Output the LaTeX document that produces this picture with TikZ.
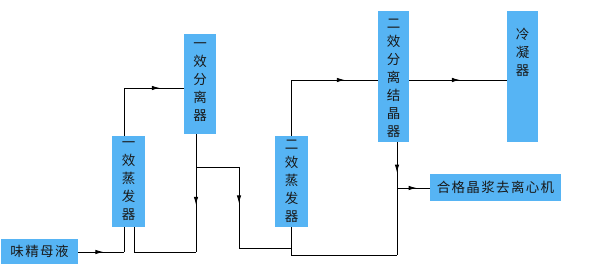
\documentclass[tikz,border=0pt]{standalone}
\usepackage{fontspec}
\newfontfamily\cjk[LetterSpace=10]{Noto Sans CJK SC}
\newfontfamily\cjkv{Noto Sans CJK SC}
\usetikzlibrary{arrows.meta,decorations.markings}
\definecolor{boxblue}{RGB}{86,180,244}
\tikzset{
  box/.style={fill=boxblue,draw=none,inner sep=0pt,text=black!90},
  vtext/.style={font=\cjkv\fontsize{13.5}{18}\selectfont,align=center,text=black!90,inner sep=0pt},
  line/.style={line width=0.9pt,black},
  arrowat/.style={line,postaction={decorate},decoration={markings,
     mark=at position #1 with {\arrow{Latex[length=8pt,width=4.5pt]}}}},
}
\begin{document}
\begin{tikzpicture}[x=1pt,y=-1pt]
\useasboundingbox (0,0) rectangle (605,280);
% boxes
\node[box,minimum width=77pt,minimum height=25pt,font=\cjk\fontsize{13.5}{15}\selectfont] (mj) at (39.5,251.5) {味精母液};
\node[box,minimum width=33pt,minimum height=91pt] (ev1) at (128.5,181.5) {};
\node[box,minimum width=32pt,minimum height=100pt] (sep1) at (200,84) {};
\node[box,minimum width=33pt,minimum height=91pt] (ev2) at (291.5,181.5) {};
\node[box,minimum width=31pt,minimum height=131pt] (sep2) at (393.5,76.5) {};
\node[box,minimum width=31pt,minimum height=131pt] (cond) at (522.5,76.5) {};
\node[box,minimum width=131pt,minimum height=27pt,font=\cjk\fontsize{13.5}{15}\selectfont] (out) at (495.5,187.5) {合格晶浆去离心机};
% vertical texts
\node[vtext] (t1) at (ev1.center) {一\\效\\蒸\\发\\器};
\node[vtext] (t2) at ([yshift=2pt]sep1.center) {一\\效\\分\\离\\器};
\node[vtext] (t3) at (ev2.center) {二\\效\\蒸\\发\\器};
\node[vtext] (t4) at ([yshift=-1.5pt]sep2.center) {二\\效\\分\\离\\结\\晶\\器};
\node[vtext,anchor=north] (t5) at ([yshift=-17pt]cond.north) {冷\\凝\\器};
% junction coordinates
\coordinate (j1) at (124,252);
\coordinate (j2) at (124,88);
\coordinate (j3) at (134,252);
\coordinate (j4) at (196,252);
\coordinate (j5) at (196,167);
\coordinate (j6) at (239,167);
\coordinate (j7) at (239,248);
\coordinate (j8) at (291,248);
\coordinate (j9) at (291,255);
\coordinate (j10) at (397,255);
\coordinate (j11) at (397,188);
\coordinate (j12) at (291,80);
% connectors
\draw[arrowat=0.55] (mj.east |- j1) -- (j1);
\draw[line] (j1) -- (j1 |- ev1.south);
\draw[line] (j2 |- ev1.north) -- (j2);
\draw[arrowat=0.6] (j2) -- (j2 -| sep1.west);
\draw[line] (j3 |- ev1.south) -- (j3) -- (j4);
\draw[arrowat=0.6] (sep1.south -| j4) -- (j4);
\draw[line] (j5) -- (j6);
\draw[arrowat=0.45] (j6) -- (j7);
\draw[line] (j7) -- (j8);
\draw[line] (ev2.south -| j9) -- (j9) -- (j10);
\draw[arrowat=0.27] (sep2.south -| j10) -- (j10);
\draw[arrowat=0.6] (j11) -- (out.west |- j11);
\draw[line] (ev2.north -| j12) -- (j12);
\draw[arrowat=0.62] (j12) -- (sep2.west |- j12);
\draw[arrowat=0.52] (sep2.east |- j12) -- (cond.west |- j12);
\end{tikzpicture}
\end{document}
